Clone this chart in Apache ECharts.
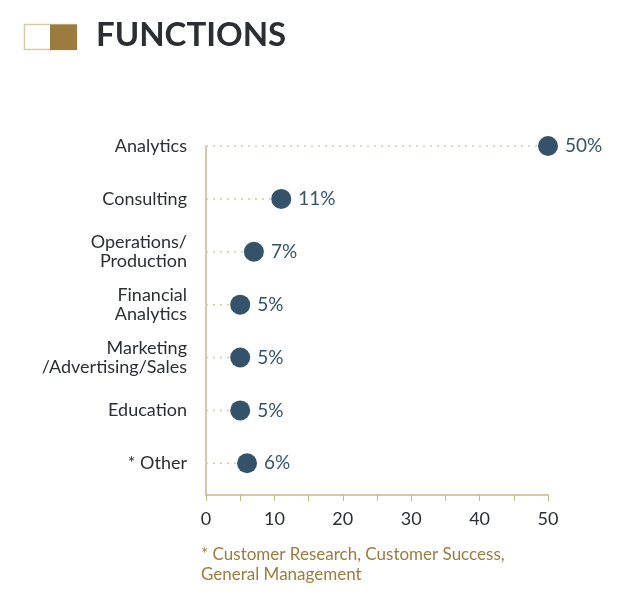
<!DOCTYPE html>
<html><head><meta charset="utf-8">
<script src="https://cdn.jsdelivr.net/npm/echarts@6/dist/echarts.min.js"></script>
<style>html,body{margin:0;padding:0;background:#fff}#c{width:622px;height:602px}</style>
</head><body><div id="c"></div>
<script>
const categories = ['Analytics', 'Consulting', 'Operations/\nProduction', 'Financial\nAnalytics', 'Marketing\n/Advertising/Sales', 'Education', '* Other'];
const values = [50, 11, 7, 5, 5, 5, 6];
const xTicks = [0, 10, 20, 30, 40, 50];
const titleText = 'FUNCTIONS';
const footnote = '* Customer Research, Customer Success,\nGeneral Management';

const FONT = 'Lato';
const DOT = '#34536b';
const TAN = '#cdb48a';
const GOLD = '#9a7d3e';

const chart = echarts.init(document.getElementById('c'));
const pts = values.map((v, i) => [v, i]);
chart.setOption({
  animation: false,
  textStyle: { fontFamily: FONT },
  grid: { left: 206, right: 74, top: 146, bottom: 107, containLabel: false },
  graphic: [
    { type: 'rect', shape: { x: 24.5, y: 24.5, width: 52, height: 25 }, style: { fill: '#fff', stroke: '#d8cba8', lineWidth: 1.5 } },
    { type: 'rect', shape: { x: 50, y: 24.5, width: 27, height: 25.5 }, style: { fill: GOLD } },
    { type: 'text', left: 96, top: 19, style: { text: titleText, font: 'bold 33px ' + FONT, fill: '#2b2f33' } },
    { type: 'text', left: 201, top: 545, style: { text: footnote, font: '17px ' + FONT, fill: GOLD, lineHeight: 20 } }
  ],
  xAxis: {
    type: 'value', min: 0, max: 50, interval: 5,
    axisLine: { show: true, onZero: false, lineStyle: { color: TAN, width: 1.5 } },
    axisTick: { show: true, length: 6, lineStyle: { color: TAN } },
    splitLine: { show: false },
    axisLabel: {
      margin: 15, fontSize: 18, color: '#2b2f33', fontFamily: FONT,
      formatter: v => xTicks.indexOf(v) >= 0 ? String(v) : ''
    }
  },
  yAxis: {
    type: 'value', inverse: true, min: 0, max: 6.6, interval: 1,
    axisLine: { show: true, onZero: false, lineStyle: { color: TAN, width: 1.5 } },
    axisTick: { show: false },
    splitLine: { show: false },
    axisLabel: {
      margin: 19, fontSize: 18, color: '#2b2f33', fontFamily: FONT, lineHeight: 19, align: 'right',
      formatter: v => (Number.isInteger(v) && categories[v] !== undefined) ? categories[v] : ''
    }
  },
  series: [
    {
      type: 'custom',
      data: pts,
      renderItem: (params, api) => {
        const a = api.coord([0, api.value(1)]);
        const b = api.coord([api.value(0), api.value(1)]);
        return { type: 'line', shape: { x1: a[0], y1: a[1], x2: b[0] - 10, y2: b[1] },
          style: { stroke: '#d9c9a2', lineWidth: 1.5, lineDash: [2, 5] } };
      },
      z: 1
    },
    {
      type: 'scatter',
      data: pts,
      symbolSize: 20,
      itemStyle: { color: DOT, opacity: 1 },
      label: {
        show: true, position: 'right', distance: 7, fontSize: 19, color: DOT, fontFamily: FONT,
        formatter: p => p.value[0] + '%'
      },
      z: 3
    }
  ]
});
</script></body></html>
